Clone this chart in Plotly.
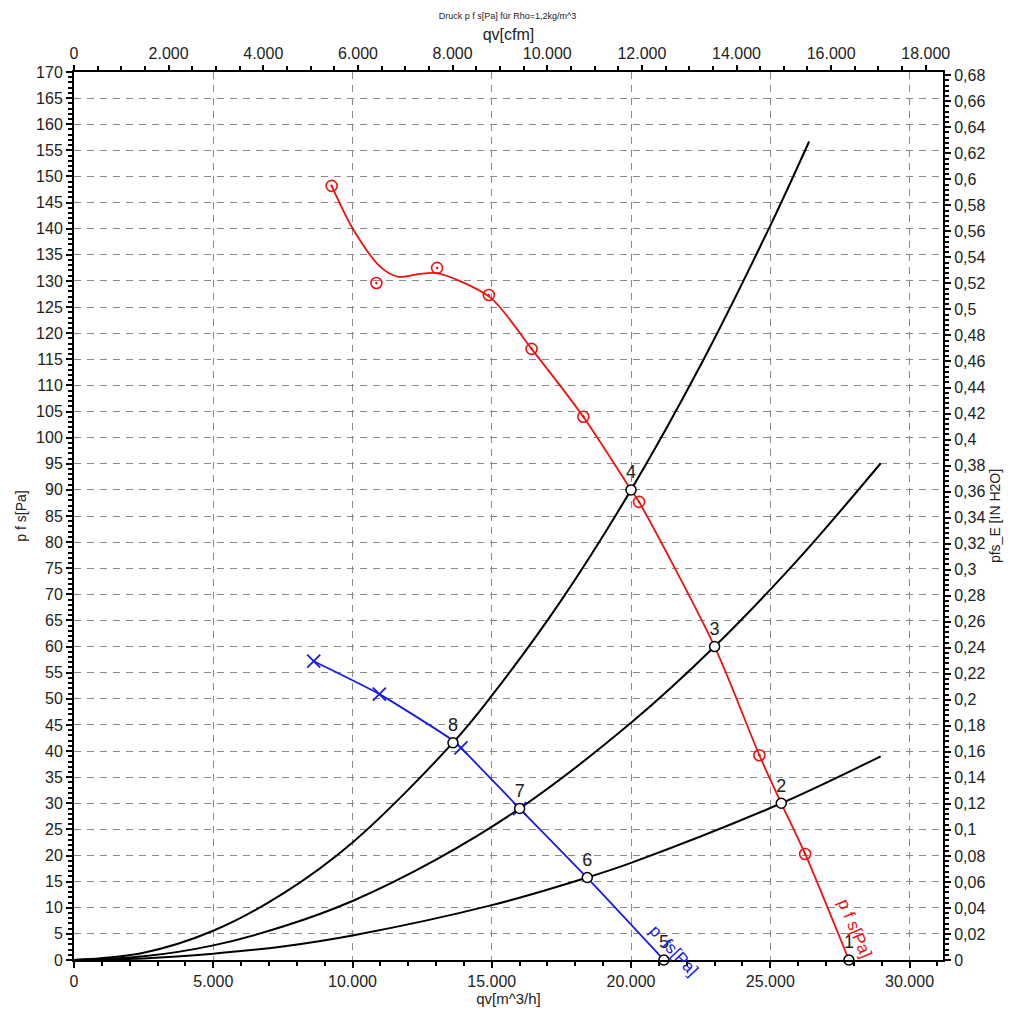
import plotly.graph_objects as go

M3H_PER_CFM = 1.699
PA_PER_INH2O = 249.089

# ---- data ----
# red fan curve p f s [Pa]: measured markers
red_mark_q = [9250, 10857, 13036, 14893, 16429, 18286, 20286, 24607, 26250]
red_mark_p = [148.2, 129.6, 132.5, 127.3, 117.0, 104.0, 87.7, 39.2, 20.3]
# red fitted curve
red_line_q = [9250, 10000, 11000, 11643, 12357, 13036, 14929, 16429, 18286, 20000, 20286,
              23000, 24607, 25393, 26250, 27821]
red_line_p = [148.2, 140.1, 132.7, 130.8, 131.3, 131.5, 126.9, 117.0, 104.0, 90.0, 87.7,
              60.0, 39.2, 30.0, 20.3, 0.0]

# blue fan curve p f s [Pa]
blue_mark_q = [8607, 10964, 13893, 16000]
blue_mark_p = [57.2, 50.9, 40.6, 29.0]
blue_line_q = [8607, 10964, 13607, 13893, 16000, 18429, 21179]
blue_line_p = [57.2, 50.9, 42.0, 40.6, 29.0, 15.7, 0.0]

# operating points
op_labels = ["1", "2", "3", "4", "5", "6", "7", "8"]
op_q = [27821, 25393, 23000, 20000, 21179, 18429, 16000, 13607]
op_p = [0.0, 30.0, 60.0, 90.0, 0.0, 15.8, 29.0, 41.6]

# system curves (black)
sysA_q = [0, 2500, 5000, 7500, 10000, 13607, 15000, 17500, 20000, 22500, 25000, 26393]
sysA_p = [0, 1.4, 5.6, 12.7, 22.5, 41.6, 50.6, 68.9, 90.0, 113.9, 140.6, 156.7]
sysB_q = [0, 2500, 5000, 7500, 10000, 13000, 16000, 20000, 23000, 26000, 28964]
sysB_p = [0, 0.7, 2.8, 6.4, 11.3, 19.2, 29.0, 45.4, 60.0, 76.7, 95.1]
sysC_q = [0, 2500, 5000, 7500, 10000, 15000, 18429, 20000, 25393, 28964]
sysC_p = [0, 0.3, 1.2, 2.6, 4.7, 10.5, 15.8, 18.6, 30.0, 39.0]

x_max = 31200
y_max = 170

FONT = "Liberation Sans, Arial, sans-serif"

fig = go.Figure()

for q, p in [(sysA_q, sysA_p), (sysB_q, sysB_p), (sysC_q, sysC_p)]:
    fig.add_trace(go.Scatter(x=q, y=p, mode="lines", line=dict(color="black", width=2, shape="spline"),
                             showlegend=False, hoverinfo="skip"))

fig.add_trace(go.Scatter(x=red_line_q, y=red_line_p, mode="lines",
                         line=dict(color="#ee1111", width=1.8, shape="spline", smoothing=0.8),
                         showlegend=False))
fig.add_trace(go.Scatter(x=red_mark_q, y=red_mark_p, mode="markers",
                         marker=dict(symbol="circle-open-dot", size=11, color="#ee1111",
                                     line=dict(width=1.6, color="#ee1111")),
                         showlegend=False))
fig.add_trace(go.Scatter(x=blue_line_q, y=blue_line_p, mode="lines",
                         line=dict(color="#1a1ae6", width=1.8, shape="spline", smoothing=0.6),
                         showlegend=False))
fig.add_trace(go.Scatter(x=blue_mark_q, y=blue_mark_p, mode="markers",
                         marker=dict(symbol="x-thin", size=13, color="#1a1ae6",
                                     line=dict(width=1.8, color="#1a1ae6")),
                         showlegend=False))
fig.add_trace(go.Scatter(x=op_q, y=op_p, mode="markers+text", text=op_labels,
                         textposition="top center",
                         textfont=dict(family=FONT, size=18, color="#222222"),
                         marker=dict(symbol="circle", size=10, color="white",
                                     line=dict(width=1.5, color="black")),
                         cliponaxis=False, showlegend=False))

# invisible traces to activate secondary axes
fig.add_trace(go.Scatter(x=[0, x_max / M3H_PER_CFM], y=[0, 0], xaxis="x2", yaxis="y",
                         mode="markers", marker=dict(opacity=0), showlegend=False, hoverinfo="skip"))
fig.add_trace(go.Scatter(x=[0, x_max], y=[0, y_max / PA_PER_INH2O], xaxis="x", yaxis="y2",
                         mode="markers", marker=dict(opacity=0), showlegend=False, hoverinfo="skip"))

fig.add_annotation(x=21536, y=1.9, text="p  fs[Pa]", showarrow=False, textangle=47,
                   font=dict(family=FONT, size=17, color="#1a1ae6"))
fig.add_annotation(x=28036, y=6.1, text="p f s[Pa]", showarrow=False, textangle=67,
                   font=dict(family=FONT, size=17, color="#ee1111"))

tickfont = dict(family=FONT, size=16, color="#222222")
axis_common = dict(showline=True, linecolor="black", linewidth=2, ticks="outside",
                   tickcolor="black", tickwidth=1.5, zeroline=False, tickfont=tickfont)

# page body has an 8px margin; figure is sized so the plot area lands where the reference has it
fig.update_layout(
    width=1005, height=1008,
    margin=dict(l=64, r=68, t=64, b=56),
    paper_bgcolor="white", plot_bgcolor="white",
    separators=",.",
    title=dict(text="Druck p f s[Pa] für Rho=1,2kg/m^3", x=0.497, xanchor="center",
               y=1 - 8 / 1008, yanchor="middle", font=dict(family=FONT, size=9, color="#222222")),
    xaxis=dict(range=[0, x_max], tick0=0, dtick=5000, tickformat=",.0f", ticklen=6,
               minor=dict(dtick=1000, ticklen=4, ticks="outside", tickcolor="black", showgrid=False),
               showgrid=True, gridcolor="#8a8a8a", gridwidth=1.2, griddash="7px,6px",
               title=dict(text="qv[m^3/h]", font=dict(family=FONT, size=15, color="#222222"), standoff=0),
               **axis_common),
    xaxis2=dict(range=[0, x_max / M3H_PER_CFM], overlaying="x", side="top", anchor="y",
                tick0=0, dtick=2000, tickformat=",.0f", ticklen=5,
                minor=dict(dtick=500, ticklen=4, ticks="outside", tickcolor="black", showgrid=False),
                showgrid=False,
                title=dict(text="qv[cfm]", font=dict(family=FONT, size=16, color="#222222"), standoff=0),
                **axis_common),
    yaxis=dict(range=[0, y_max], tick0=0, dtick=5, ticklen=6,
               minor=dict(dtick=1, ticklen=4, ticks="outside", tickcolor="black", showgrid=False),
               showgrid=True, gridcolor="#8a8a8a", gridwidth=1.2, griddash="7px,6px",
               title=dict(text="p f s[Pa]", font=dict(family=FONT, size=14, color="#222222"), standoff=6),
               **axis_common),
    yaxis2=dict(range=[0, y_max / PA_PER_INH2O], overlaying="y", side="right", anchor="x",
                tick0=0, dtick=0.02, ticklen=6,
                minor=dict(dtick=0.004, ticklen=4, ticks="outside", tickcolor="black", showgrid=False),
                showgrid=False,
                title=dict(text="pfs_E [IN H2O]", font=dict(family=FONT, size=14, color="#222222"), standoff=6),
                **axis_common),
)

fig.write_html("out.html")
